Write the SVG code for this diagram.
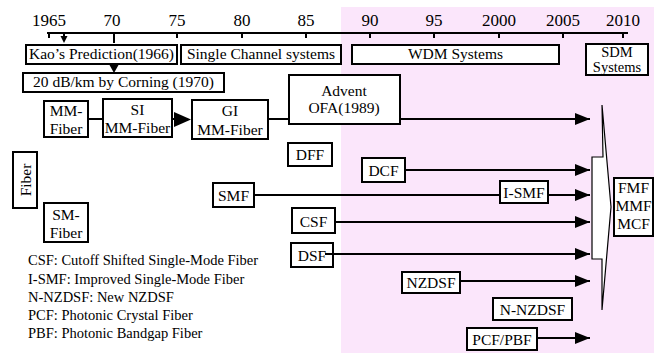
<svg xmlns="http://www.w3.org/2000/svg" width="658" height="355" viewBox="0 0 658 355" font-family="Liberation Serif, Times New Roman, serif">
<defs>
<style>
text{font-size:15.5px;fill:#000;text-anchor:middle}
.yr{font-size:17px}
.sm{font-size:14.5px}
.lg{font-size:14.5px;text-anchor:start}
.box{fill:#fff;stroke:#000;stroke-width:2}
.ln{fill:none;stroke:#000;stroke-width:2}
</style>
<marker id="ah" markerUnits="userSpaceOnUse" markerWidth="16" markerHeight="12" refX="15" refY="6" orient="auto"><path d="M0,0 L15,6 L0,12 z" fill="#000"/></marker>
</defs>
<rect x="341" y="7" width="313" height="346" fill="#fbe6fb"/>
<g id="axis">
<line class="ln" x1="47" y1="33" x2="628" y2="33"/>
<path class="ln" d="M49,33V38M114,33V43M177,33V38M242,33V38M306,33V38M370,33V38M434,33V38M499,33V38M563,33V38M623,33V38"/>
<text class="yr" x="49" y="26">1965</text>
<text class="yr" x="112" y="26">70</text>
<text class="yr" x="177" y="26">75</text>
<text class="yr" x="242" y="26">80</text>
<text class="yr" x="306" y="26">85</text>
<text class="yr" x="370" y="26">90</text>
<text class="yr" x="434" y="26">95</text>
<text class="yr" x="499" y="26">2000</text>
<text class="yr" x="563" y="26">2005</text>
<text class="yr" x="623" y="26">2010</text>
</g>
<g id="connectors">
<line class="ln" x1="64" y1="33" x2="64" y2="37"/>
<path d="M60.5,36 L67.5,36 L64,43 z"/>
<line class="ln" x1="114" y1="64" x2="114" y2="66"/>
<path d="M109.5,65 L118.5,65 L114,73 z"/>
<line class="ln" x1="88" y1="119" x2="103" y2="119"/>
<line class="ln" x1="172" y1="119" x2="176" y2="119"/>
<path d="M174,112 L191,119.5 L174,127 z"/>
<line class="ln" x1="268" y1="119" x2="289" y2="119"/>
<line class="ln" x1="400" y1="119" x2="590" y2="119" marker-end="url(#ah)"/>
<line class="ln" x1="405" y1="170" x2="590" y2="170" marker-end="url(#ah)"/>
<line class="ln" x1="254" y1="195" x2="500" y2="195"/>
<line class="ln" x1="548" y1="195" x2="590" y2="195" marker-end="url(#ah)"/>
<line class="ln" x1="335" y1="222" x2="590" y2="222" marker-end="url(#ah)"/>
<line class="ln" x1="325" y1="254" x2="590" y2="254" marker-end="url(#ah)"/>
<line class="ln" x1="460" y1="281" x2="590" y2="281" marker-end="url(#ah)"/>
<line class="ln" x1="537" y1="338" x2="590" y2="338" marker-end="url(#ah)"/>
</g>
<g id="kao"><rect class="box" x="26" y="45" width="151" height="19"/><text x="101.5" y="59">Kao’s Prediction(1966)</text></g>
<g id="single"><rect class="box" x="181" y="45" width="160" height="19"/><text x="261" y="59">Single Channel systems</text></g>
<g id="wdm"><rect class="box" x="352" y="45" width="207" height="19"/><text x="455.5" y="59">WDM Systems</text></g>
<g id="sdm"><rect class="box" x="586" y="44" width="62" height="31"/><text class="sm" x="617" y="57">SDM</text><text class="sm" x="617" y="72">Systems</text></g>
<g id="corning"><rect class="box" x="23" y="73" width="201" height="19"/><text x="123.5" y="87">20 dB/km by Corning (1970)</text></g>
<g id="advent"><rect class="box" x="289" y="75" width="111" height="49"/><text x="344" y="96">Advent</text><text x="344" y="113">OFA(1989)</text></g>
<g id="mm"><rect class="box" x="44" y="101" width="44" height="36"/><text x="66" y="116">MM-</text><text x="66" y="134">Fiber</text></g>
<g id="si"><rect class="box" x="103" y="99" width="69" height="38"/><text x="137.5" y="115">SI</text><text x="137.5" y="133">MM-Fiber</text></g>
<g id="gi"><rect class="box" x="192" y="100" width="76" height="39"/><text x="230" y="116">GI</text><text x="230" y="135">MM-Fiber</text></g>
<g id="dff"><rect class="box" x="288" y="143" width="44" height="23"/><text x="310" y="160">DFF</text></g>
<g id="fiber"><rect class="box" x="13" y="152" width="24" height="56"/><text transform="translate(30.5,180) rotate(-90)">Fiber</text></g>
<g id="smfiber"><rect class="box" x="44" y="203" width="44" height="39"/><text x="66" y="220">SM-</text><text x="66" y="238">Fiber</text></g>
<g id="smf"><rect class="box" x="213" y="183" width="41" height="24"/><text x="233.5" y="200.5">SMF</text></g>
<g id="dcf"><rect class="box" x="362" y="158" width="43" height="24"/><text x="383.5" y="175.5">DCF</text></g>
<g id="ismf"><rect class="box" x="500" y="181" width="48" height="22"/><text x="524" y="197.5">I-SMF</text></g>
<g id="csf"><rect class="box" x="292" y="208" width="43" height="25"/><text x="313.5" y="226.5">CSF</text></g>
<g id="dsf"><rect class="box" x="291" y="243" width="42" height="24"/><text x="312" y="260.5">DSF</text></g>
<line class="ln" x1="325" y1="254" x2="333" y2="254"/>
<g id="nzdsf"><rect class="box" x="402" y="272" width="58" height="21"/><text x="431" y="288">NZDSF</text></g>
<g id="nnzdsf"><rect class="box" x="493" y="298" width="79" height="22"/><text x="532.5" y="314.5">N-NZDSF</text></g>
<g id="pcf"><rect class="box" x="467" y="328" width="70" height="22"/><text x="502" y="344.5">PCF/PBF</text></g>
<g id="bracket"><path d="M602,105 L611,207 L602,310 L602,259 L592,259 L592,157 L603,157 L602,105" fill="#fff" stroke="#000" stroke-width="1.2"/></g>
<g id="fmf"><rect class="box" x="614" y="178" width="39" height="58"/><text x="633.5" y="193">FMF</text><text x="633.5" y="211">MMF</text><text x="633.5" y="229">MCF</text></g>
<g id="legend">
<text class="lg" x="28" y="265">CSF: Cutoff Shifted Single-Mode Fiber</text>
<text class="lg" x="28" y="284">I-SMF: Improved Single-Mode Fiber</text>
<text class="lg" x="28" y="302">N-NZDSF: New NZDSF</text>
<text class="lg" x="28" y="320">PCF: Photonic Crystal Fiber</text>
<text class="lg" x="28" y="338">PBF: Photonic Bandgap Fiber</text>
</g>
</svg>
